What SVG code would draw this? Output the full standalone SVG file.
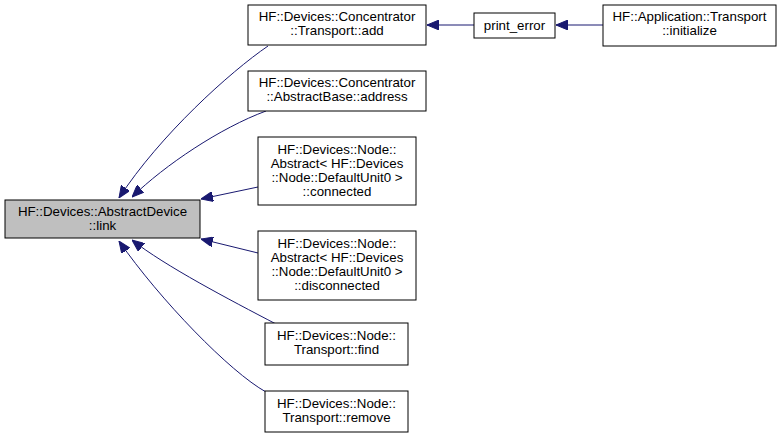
<svg xmlns="http://www.w3.org/2000/svg" width="783" height="437" viewBox="0 0 783 437">
<style>
.n rect{fill:#fff;stroke:#000;stroke-width:1}
.n.hl rect{fill:#bfbfbf}
.n text{font-family:"Liberation Sans",Arial,sans-serif;font-size:13.3px;fill:#000;text-anchor:middle}
.e path{fill:none;stroke:#191970;stroke-width:1}
</style>
<defs>
<marker id="ah" viewBox="0 0 12 10" refX="12" refY="5" markerWidth="12" markerHeight="10" markerUnits="userSpaceOnUse" orient="auto">
<path d="M0,0 L12,5 L0,10 Z" fill="#191970" stroke="#191970"/>
</marker>
</defs>
<rect width="783" height="437" fill="#fff"/>
<g class="e">
<path d="M268,46 C230,72 160,135 119,198" marker-end="url(#ah)"/>
<path d="M266,111 C220,128 165,165 132,197" marker-end="url(#ah)"/>
<path d="M258,187 L201,199" marker-end="url(#ah)"/>
<path d="M258,253 L201,239" marker-end="url(#ah)"/>
<path d="M276,324 C230,300 165,266 132,240" marker-end="url(#ah)"/>
<path d="M266,392 C230,372 160,300 119,241" marker-end="url(#ah)"/>
<path d="M474,25 L427,25" marker-end="url(#ah)"/>
<path d="M603,25 L556,25" marker-end="url(#ah)"/>
</g>
<g id="main" class="n hl"><rect x="5" y="200" width="195" height="38"/><text x="102.5" y="216">HF::Devices::AbstractDevice</text><text x="102.5" y="230">::link</text></g>
<g id="add" class="n"><rect x="248" y="5" width="178" height="40"/><text x="337" y="21">HF::Devices::Concentrator</text><text x="337" y="35">::Transport::add</text></g>
<g id="address" class="n"><rect x="248" y="71" width="178" height="40"/><text x="337" y="87">HF::Devices::Concentrator</text><text x="337" y="101">::AbstractBase::address</text></g>
<g id="connected" class="n"><rect x="258" y="137" width="158" height="68"/><text x="337" y="154">HF::Devices::Node::</text><text x="337" y="168">Abstract&lt; HF::Devices</text><text x="337" y="182">::Node::DefaultUnit0 &gt;</text><text x="337" y="196">::connected</text></g>
<g id="disconnected" class="n"><rect x="258" y="231" width="158" height="69"/><text x="337" y="248">HF::Devices::Node::</text><text x="337" y="262">Abstract&lt; HF::Devices</text><text x="337" y="276">::Node::DefaultUnit0 &gt;</text><text x="337" y="290">::disconnected</text></g>
<g id="find" class="n"><rect x="265" y="323" width="143" height="42"/><text x="336.5" y="340">HF::Devices::Node::</text><text x="336.5" y="354">Transport::find</text></g>
<g id="remove" class="n"><rect x="265" y="391" width="143" height="41"/><text x="336.5" y="408">HF::Devices::Node::</text><text x="336.5" y="422">Transport::remove</text></g>
<g id="print_error" class="n"><rect x="474" y="13" width="81" height="25"/><text x="514.5" y="30">print_error</text></g>
<g id="initialize" class="n"><rect x="603" y="5" width="173" height="41"/><text x="689.5" y="21">HF::Application::Transport</text><text x="689.5" y="35">::initialize</text></g>
</svg>
